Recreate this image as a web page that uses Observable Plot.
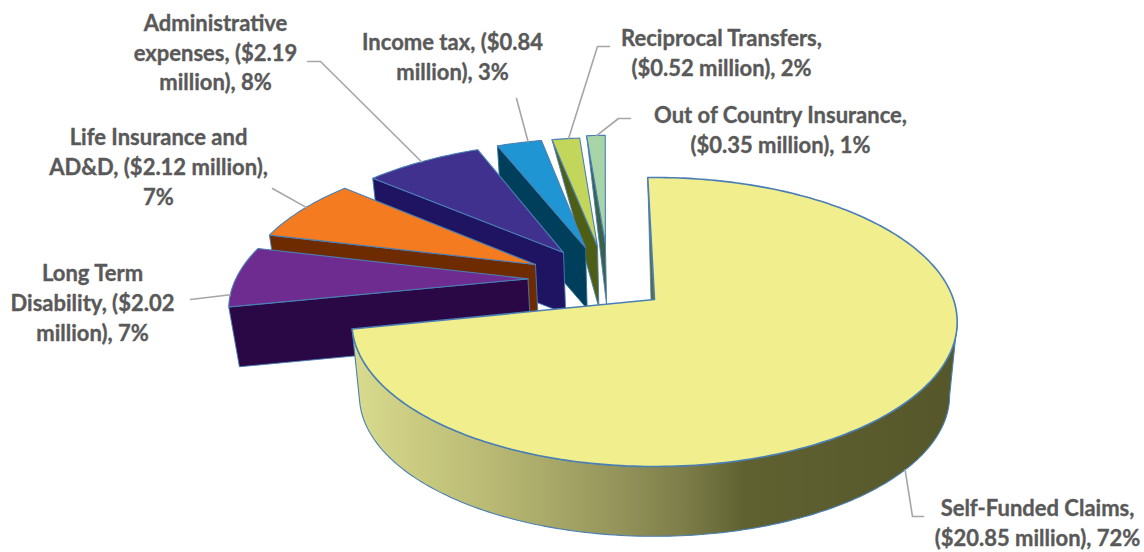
<!DOCTYPE html>
<html>
<head>
<meta charset="utf-8">
<script src="https://cdn.jsdelivr.net/npm/d3@7"></script>
<script src="https://cdn.jsdelivr.net/npm/@observablehq/plot@0.6"></script>
<style>html,body{margin:0;padding:0;background:#fff}</style>
</head>
<body>
<div id="chart"></div>
<script>
// ---- Data
const categories = ["Self-Funded Claims","Long Term Disability","Life Insurance and AD&D","Administrative expenses","Income tax","Reciprocal Transfers","Out of Country Insurance"];
const values = [20.85, 2.02, 2.12, 2.19, 0.84, 0.52, 0.35];
const labels = [
  "Self-Funded Claims,\n($20.85 million), 72%",
  "Long Term\nDisability, ($2.02\nmillion), 7%",
  "Life Insurance and\nAD&D, ($2.12 million),\n7%",
  "Administrative\nexpenses, ($2.19\nmillion), 8%",
  "Income tax, ($0.84\nmillion), 3%",
  "Reciprocal Transfers,\n($0.52 million), 2%",
  "Out of Country Insurance,\n($0.35 million), 1%"
];
const topColors  = ["#f1ee8d","#6e2c90","#f47b20","#41318f","#1f96d3","#c3d65c","#a8d5a8"];
const wallColors = ["#55572a","#2a0845","#6e2b00","#1e1462","#003f5c","#4e5e14","#3b6148"];

// ---- Layout of the 3-D pie
const R = 299, Ry = 141, persp = 0.1557, cx = 654, cy = 299, shrink = 0.975;
const startAngle = -1.5, mainDepth = 74, sliceDepth = 60;
const explodeX = [0, -0.433, -0.414, -0.321, -0.245, -0.2025, -0.175];
const explodeZ = [0,  0.150,  0.258,  0.351,  0.391,  0.399,  0.423];
const labelX = [1037, 92, 158, 215, 452, 721, 780];
const labelY = [521, 301, 165, 50.5, 55, 51, 128];
const leaderT = [0.503, 0.2, 0.55, 0.49, 0.7, 0.6, 0.55];
const leaderHead = [
  [[923,516],[912,516]],
  [[190,299]],
  [[272,188]],
  [[307,61],[320,61]],
  [[516,98]],
  [[609,46],[597,46]],
  [[630,118],[618,118]]
];

const rad = d => d * Math.PI / 180;
const total = d3.sum(values);
let acc = startAngle;
const slices = values.map((v, i) => {
  const a0 = acc, a1 = acc + v / total * 360; acc = a1;
  return {i, a0, a1, ex: explodeX[i], ez: explodeZ[i]};
});
const project = (X, Z) => {
  const s = 1 / (1 + persp * Z);
  return {x: cx + R * X * s, y: cy - Ry * Z * s};
};
const lower = (p, d) => ({x: cx + shrink * (p.x - cx), y: cy + d + shrink * (p.y - cy)});
const onArc = (s, a) => project(s.ex + Math.sin(rad(a)), s.ez + Math.cos(rad(a)));
const arc = (s, a0, a1) => {
  const n = Math.max(2, Math.ceil(Math.abs(a1 - a0)));
  return d3.range(n + 1).map(j => onArc(s, a0 + (a1 - a0) * j / n));
};
const apex = s => project(s.ex, s.ez);

const blue = "#4a7fb5";
const poly = (pts, fill, stroke = blue, w = 1) =>
  Plot.line([...pts, pts[0]], {x: "x", y: "y", fill, stroke, strokeWidth: w, strokeLinejoin: "round"});

const marks = [];
marks.push(() => {
  const svg = d3.create("svg:defs");
  const g = svg.append("linearGradient").attr("id", "rim");
  [[0,"#d9db8e"],[0.12,"#c8c97f"],[0.25,"#b6b672"],[0.42,"#98985e"],[0.55,"#7c7d48"],[0.65,"#5f6131"],[1,"#55572a"]]
    .forEach(([o, c]) => g.append("stop").attr("offset", o).attr("stop-color", c));
  return svg.node();
});

// exploded slices, back to front
for (const s of slices.slice(1).reverse()) {
  const A = apex(s), L = onArc(s, s.a0);
  const narrow = values[s.i] / total < 0.03;
  const wall = narrow && s.i >= 5
    ? [A, L, lower(A, sliceDepth)]
    : [A, L, lower(L, sliceDepth), lower(A, sliceDepth)];
  marks.push(poly(wall, wallColors[s.i], s.i === 4 ? "#2a6f94" : blue, 0.9));
  marks.push(poly([A, ...arc(s, s.a0, s.a1)], topColors[s.i], blue, 1.1));
}

// main slice
const main = slices[0];
const mA = apex(main);
const mT = onArc(main, main.a0);
marks.push(poly([mT, mA, {x: mA.x - 3.5, y: mA.y}], "#5a6b35", blue, 0.8));
const rimTop = arc(main, 99, main.a1);
marks.push(poly([...rimTop, ...rimTop.slice().reverse().map(p => lower(p, mainDepth))], "url(#rim)", blue, 1.1));
marks.push(poly([mA, ...arc(main, main.a0, main.a1)], topColors[0], blue, 1.6));

// leader lines
slices.forEach(s => {
  let end = onArc(s, s.a0 + (s.a1 - s.a0) * leaderT[s.i]);
  if (s.i === 0) end = lower(end, mainDepth);
  const pts = [...leaderHead[s.i].map(([x, y]) => ({x, y})), end];
  marks.push(Plot.line(pts, {x: "x", y: "y", stroke: "#a6a6a6", strokeWidth: 1.6}));
});

// labels
marks.push(Plot.text(labels, {
  x: (d, i) => labelX[i], y: (d, i) => labelY[i],
  text: d => d, textAnchor: "middle", lineAnchor: "middle", lineHeight: 1.35,
  fontFamily: "Lato", fontWeight: 700, fontSize: 22, fill: "#595959",
  stroke: "#595959", strokeWidth: 0.35
}));

document.getElementById("chart").append(Plot.plot({
  width: 1144, height: 552, margin: 0,
  x: {domain: [0, 1144], range: [0, 1144], axis: null},
  y: {domain: [0, 552], range: [0, 552], axis: null},
  style: {background: "#fff", display: "block"},
  marks
}));
</script>
</body>
</html>
